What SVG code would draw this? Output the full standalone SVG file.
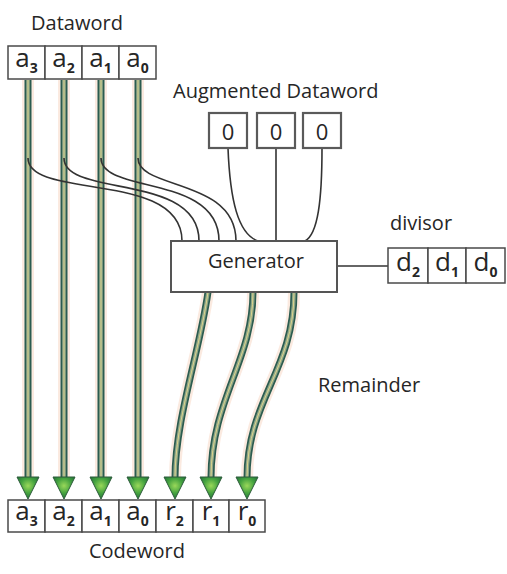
<svg xmlns="http://www.w3.org/2000/svg" xmlns:xlink="http://www.w3.org/1999/xlink" width="507" height="574" viewBox="0 0 507 574">
  <style>
    .lbl { font-family: "Open Sans", "Noto Sans", sans-serif; font-size: 20px; fill: #262626; }
    .sym { font-family: "Open Sans", "Noto Sans", sans-serif; font-size: 26px; fill: #262626; text-anchor: middle; }
    .sub { font-size: 14px; font-weight: bold; }
    .cell { fill: #ffffff; stroke: #4a4a4a; stroke-width: 1.5; }
    .zero { fill: #ffffff; stroke: #5a5a5a; stroke-width: 2.2; }
    .box { fill: #ffffff; stroke: #555555; stroke-width: 2; }
    .wire { fill: none; stroke: #333333; stroke-width: 1.6; }
    .halo { fill: none; stroke: #f9dccb; stroke-width: 12; stroke-opacity: 0.6; }
    .edge { fill: none; stroke: #2b5c50; stroke-width: 7; }
    .core { fill: none; stroke: #8fa688; stroke-width: 3.6; }
    .mid { fill: none; stroke: #ddd58c; stroke-width: 1; }
    .head { fill: url(#headFill); stroke: #2c5a3a; stroke-width: 1; }
  </style>
  <defs>
    <radialGradient id="headFill" cx="0.5" cy="0.4" r="0.6">
      <stop offset="0" stop-color="#9ad85a"/>
      <stop offset="0.55" stop-color="#45a33f"/>
      <stop offset="1" stop-color="#25773a"/>
    </radialGradient>
    <!-- shafts of the data and remainder arrows -->
    <path id="s_a3" d="M28 80 V478"/>
    <path id="s_a2" d="M64 80 V478"/>
    <path id="s_a1" d="M101 80 V478"/>
    <path id="s_a0" d="M138 80 V478"/>
    <path id="s_r2" d="M208 292 C200 350 175 420 175 478"/>
    <path id="s_r1" d="M253 292 C253 360 211 400 211 478"/>
    <path id="s_r0" d="M294 292 C294 370 247 400 247 478"/>
    <polygon id="tip" points="-11,0 11,0 0,22"/>
  </defs>

  <rect width="507" height="574" fill="#ffffff"/>

  <!-- connectors -->
  <g id="connectors">
    <g id="shafts">
      <use xlink:href="#s_a3" class="halo"/><use xlink:href="#s_a2" class="halo"/>
      <use xlink:href="#s_a1" class="halo"/><use xlink:href="#s_a0" class="halo"/>
      <use xlink:href="#s_r2" class="halo"/><use xlink:href="#s_r1" class="halo"/>
      <use xlink:href="#s_r0" class="halo"/>
      <use xlink:href="#s_a3" class="edge"/><use xlink:href="#s_a2" class="edge"/>
      <use xlink:href="#s_a1" class="edge"/><use xlink:href="#s_a0" class="edge"/>
      <use xlink:href="#s_r2" class="edge"/><use xlink:href="#s_r1" class="edge"/>
      <use xlink:href="#s_r0" class="edge"/>
      <use xlink:href="#s_a3" class="core"/><use xlink:href="#s_a2" class="core"/>
      <use xlink:href="#s_a1" class="core"/><use xlink:href="#s_a0" class="core"/>
      <use xlink:href="#s_r2" class="core"/><use xlink:href="#s_r1" class="core"/>
      <use xlink:href="#s_r0" class="core"/>
      <use xlink:href="#s_a3" class="mid"/><use xlink:href="#s_a2" class="mid"/>
      <use xlink:href="#s_a1" class="mid"/><use xlink:href="#s_a0" class="mid"/>
      <use xlink:href="#s_r2" class="mid"/><use xlink:href="#s_r1" class="mid"/>
      <use xlink:href="#s_r0" class="mid"/>
    </g>
    <g id="heads">
      <use xlink:href="#tip" class="head" x="28" y="477"/>
      <use xlink:href="#tip" class="head" x="64" y="477"/>
      <use xlink:href="#tip" class="head" x="101" y="477"/>
      <use xlink:href="#tip" class="head" x="138" y="477"/>
      <use xlink:href="#tip" class="head" x="175" y="477"/>
      <use xlink:href="#tip" class="head" x="211" y="477"/>
      <use xlink:href="#tip" class="head" x="247" y="477"/>
    </g>
    <!-- taps from the dataword bits into the generator -->
    <path class="wire" d="M28 158 C28 200 182 170 182 241"/>
    <path class="wire" d="M64 158 C64 198 199 172 199 241"/>
    <path class="wire" d="M101 158 C101 194 219 174 219 241"/>
    <path class="wire" d="M138 158 C138 190 236 178 236 241"/>
    <!-- zero bits into the generator -->
    <path class="wire" d="M228 148 C230 200 238 234 258 241"/>
    <path class="wire" d="M276 148 V241"/>
    <path class="wire" d="M322 148 C322 200 318 234 305 241"/>
    <!-- divisor link -->
    <path class="wire" d="M337 266 H388"/>
  </g>

  <g id="dataword">
    <text class="lbl" x="77" y="30" text-anchor="middle">Dataword</text>
    <rect class="cell" x="8" y="46" width="37" height="33"/>
    <rect class="cell" x="45" y="46" width="37" height="33"/>
    <rect class="cell" x="82" y="46" width="37" height="33"/>
    <rect class="cell" x="119" y="46" width="37" height="33"/>
    <text class="sym" x="26.5" y="67">a<tspan class="sub" dy="6">3</tspan></text>
    <text class="sym" x="63.5" y="67">a<tspan class="sub" dy="6">2</tspan></text>
    <text class="sym" x="100.5" y="67">a<tspan class="sub" dy="6">1</tspan></text>
    <text class="sym" x="137.5" y="67">a<tspan class="sub" dy="6">0</tspan></text>
  </g>

  <g id="augmented">
    <text class="lbl" x="173" y="98">Augmented Dataword</text>
    <rect class="zero" x="209" y="113" width="38" height="35"/>
    <rect class="zero" x="257" y="113" width="38" height="35"/>
    <rect class="zero" x="303" y="113" width="38" height="35"/>
    <text class="sym" x="228" y="140" style="font-size:22px">0</text>
    <text class="sym" x="276" y="140" style="font-size:22px">0</text>
    <text class="sym" x="322" y="140" style="font-size:22px">0</text>
  </g>

  <g id="generator">
    <rect class="box" x="171" y="241" width="166" height="51"/>
    <text class="lbl" x="256" y="268" text-anchor="middle">Generator</text>
  </g>

  <g id="divisor">
    <text class="lbl" x="390" y="230">divisor</text>
    <rect class="cell" x="388" y="248" width="40" height="35"/>
    <rect class="cell" x="428" y="248" width="38" height="35"/>
    <rect class="cell" x="466" y="248" width="39" height="35"/>
    <text class="sym" x="408" y="271">d<tspan class="sub" dy="6">2</tspan></text>
    <text class="sym" x="447" y="271">d<tspan class="sub" dy="6">1</tspan></text>
    <text class="sym" x="485.5" y="271">d<tspan class="sub" dy="6">0</tspan></text>
  </g>

  <g id="remainder">
    <text class="lbl" x="318" y="392">Remainder</text>
  </g>

  <g id="codeword">
    <rect class="cell" x="8" y="500" width="37" height="32"/>
    <rect class="cell" x="45" y="500" width="37" height="32"/>
    <rect class="cell" x="82" y="500" width="37" height="32"/>
    <rect class="cell" x="119" y="500" width="37" height="32"/>
    <rect class="cell" x="156" y="500" width="37" height="32"/>
    <rect class="cell" x="193" y="500" width="36" height="32"/>
    <rect class="cell" x="229" y="500" width="36" height="32"/>
    <text class="sym" x="26.5" y="520">a<tspan class="sub" dy="6">3</tspan></text>
    <text class="sym" x="63.5" y="520">a<tspan class="sub" dy="6">2</tspan></text>
    <text class="sym" x="100.5" y="520">a<tspan class="sub" dy="6">1</tspan></text>
    <text class="sym" x="137.5" y="520">a<tspan class="sub" dy="6">0</tspan></text>
    <text class="sym" x="174.5" y="520">r<tspan class="sub" dy="6">2</tspan></text>
    <text class="sym" x="211" y="520">r<tspan class="sub" dy="6">1</tspan></text>
    <text class="sym" x="247" y="520">r<tspan class="sub" dy="6">0</tspan></text>
    <text class="lbl" x="137" y="558" text-anchor="middle">Codeword</text>
  </g>
</svg>
